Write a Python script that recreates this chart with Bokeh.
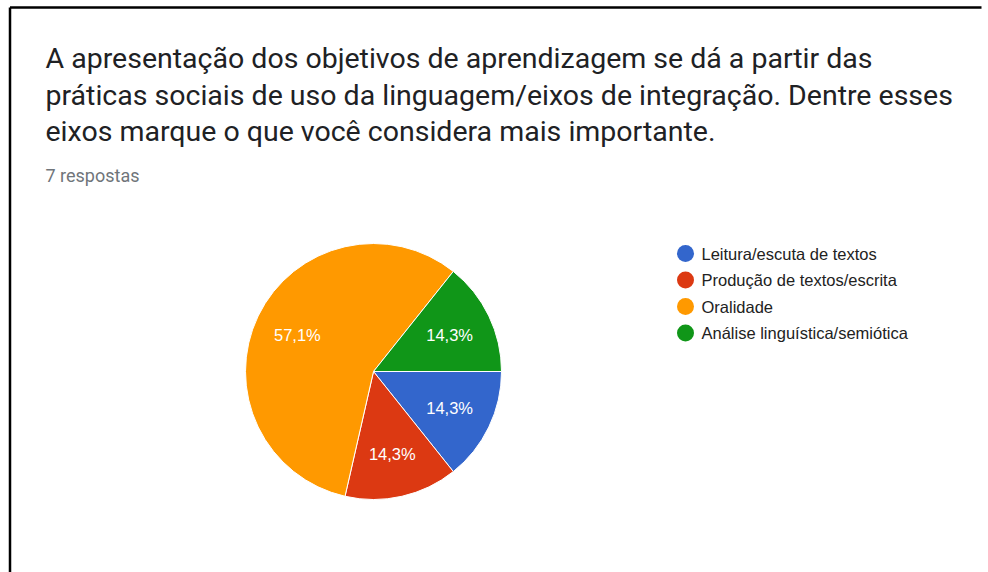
import math
from bokeh.plotting import figure
from bokeh.models import Range1d
from bokeh.core.properties import value
from bokeh.embed import file_html
from bokeh.resources import INLINE

# ---- data ----
title_lines = [
    "A apresentação dos objetivos de aprendizagem se dá a partir das",
    "práticas sociais de uso da linguagem/eixos de integração. Dentre esses",
    "eixos marque o que você considera mais importante.",
]
subtitle = "7 respostas"
categories = ["Leitura/escuta de textos", "Produção de textos/escrita",
              "Oralidade", "Análise linguística/semiótica"]
counts = [1, 1, 4, 1]
colors = ["#3366cc", "#dc3912", "#ff9900", "#109618"]

W, H = 988, 572
p = figure(width=W, height=H, output_backend="svg", toolbar_location=None,
           x_range=Range1d(0, W), y_range=Range1d(0, H), min_border=0)
p.axis.visible = False
p.grid.visible = False
p.outline_line_color = None
p.background_fill_color = "white"
p.border_fill_color = "white"

def Y(py):
    return H - py

# frame lines (decoration)
p.segment(x0=[9.5, 9.5], y0=[Y(7), Y(7)], x1=[981, 9.5], y1=[Y(7), Y(H)],
          line_color="black", line_width=2.5)

# title
p.text(x=[45] * 3, y=[Y(58), Y(94.5), Y(131)], text=title_lines,
       text_font=value("Roboto"), text_font_size="28.5px", text_color="#202124",
       text_baseline="middle", text_align="left")
p.text(x=[45], y=[Y(175)], text=[subtitle], text_font=value("Roboto"),
       text_font_size="18px", text_color="#70757a", text_baseline="middle")

# pie
cx, cy, R = 373, Y(371), 128
total = sum(counts)
starts, ends, lx, ly, labels = [], [], [], [], []
cum = 0
for c in counts:
    a0 = -2 * math.pi * cum / total
    cum += c
    a1 = -2 * math.pi * cum / total
    starts.append(a0)
    ends.append(a1)
    mid = (a0 + a1) / 2
    lx.append(cx + 0.66 * R * math.cos(mid))
    ly.append(cy + 0.66 * R * math.sin(mid))
    labels.append(f"{100 * c / total:.1f}%".replace(".", ","))

p.wedge(x=cx, y=cy, radius=R, start_angle=starts, end_angle=ends,
        direction="clock", fill_color=colors, line_color="white", line_width=1)
p.text(x=lx, y=ly, text=labels, text_font=value("Liberation Sans"),
       text_font_size="16.5px", text_color="white", text_align="center",
       text_baseline="middle")

# legend
leg_y = [Y(253), Y(279.5), Y(306), Y(332.5)]
p.scatter(x=[685] * 4, y=leg_y, size=17, marker="circle", fill_color=colors,
          line_color=None)
p.text(x=[701] * 4, y=leg_y, text=categories, text_font=value("Liberation Sans"),
       text_font_size="16.5px", text_color="#222222", text_baseline="middle")

open("out.html", "w").write(file_html(p, INLINE))
